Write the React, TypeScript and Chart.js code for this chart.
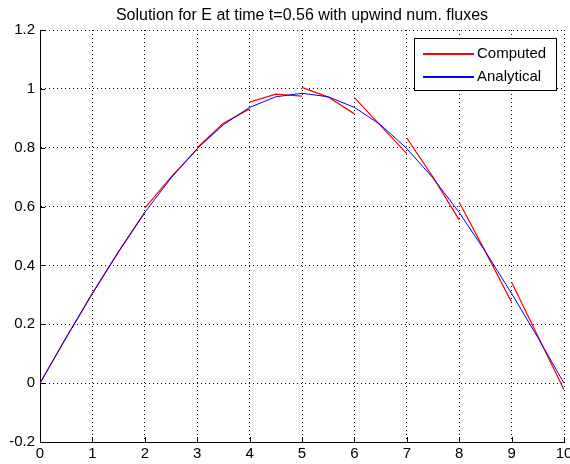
import React, { useEffect, useRef } from "react";
import { Chart, registerables } from "chart.js";

Chart.register(...registerables);

const TITLE = "Solution for E at time t=0.56 with upwind num. fluxes";
const LEGEND_LABELS = ["Computed", "Analytical"];
const SERIES_COLORS = ["#ff0000", "#0000ff"];

const X_TICKS = [0, 1, 2, 3, 4, 5, 6, 7, 8, 9, 10];
const X_TICK_LABELS = ["0", "1", "2", "3", "4", "5", "6", "7", "8", "9", "10"];
const Y_TICKS = [-0.2, 0, 0.2, 0.4, 0.6, 0.8, 1, 1.2];
const Y_TICK_LABELS = ["-0.2", "0", "0.2", "0.4", "0.6", "0.8", "1", "1.2"];

// Analytical solution
const ANALYTICAL_X = [0, 0.5, 1, 1.5, 2, 2.5, 3, 3.5, 4, 4.5, 5, 5.5, 6, 6.5, 7, 7.5, 8, 8.5, 9, 9.5, 10];
const ANALYTICAL_Y = [0, 0.155, 0.305, 0.447, 0.58, 0.697, 0.797, 0.878, 0.937, 0.973, 0.985, 0.973, 0.937, 0.878, 0.797, 0.697, 0.58, 0.447, 0.305, 0.155, 0];

// Computed solution: one element per unit interval, left / middle / right node
const ELEMENT_LEFT_X = [0, 1, 2, 3, 4, 5, 6, 7, 8, 9];
const ELEMENT_MID_X = [0.5, 1.5, 2.5, 3.5, 4.5, 5.5, 6.5, 7.5, 8.5, 9.5];
const ELEMENT_RIGHT_X = [1, 2, 3, 4, 5, 6, 7, 8, 9, 10];
const COMPUTED_LEFT_Y = [0, 0.305, 0.595, 0.8, 0.955, 1.005, 0.97, 0.833, 0.615, 0.343];
const COMPUTED_MID_Y = [0.155, 0.447, 0.7, 0.883, 0.982, 0.972, 0.875, 0.7, 0.447, 0.16];
const COMPUTED_RIGHT_Y = [0.305, 0.58, 0.795, 0.932, 0.975, 0.915, 0.78, 0.555, 0.275, -0.022];

const FONT = "'Liberation Sans', Arial, sans-serif";

export default function App() {
  const ref = useRef<HTMLCanvasElement | null>(null);

  useEffect(() => {
    document.body.style.margin = "0";
    const canvas = ref.current;
    if (!canvas) return;

    const computed: { x: number; y: number | null }[] = [];
    ELEMENT_LEFT_X.forEach((lx, i) => {
      computed.push({ x: lx, y: COMPUTED_LEFT_Y[i] });
      computed.push({ x: ELEMENT_MID_X[i], y: COMPUTED_MID_Y[i] });
      computed.push({ x: ELEMENT_RIGHT_X[i], y: COMPUTED_RIGHT_Y[i] });
      computed.push({ x: ELEMENT_RIGHT_X[i], y: null });
    });
    const analytical = ANALYTICAL_X.map((x, i) => ({ x, y: ANALYTICAL_Y[i] }));

    const decor = {
      id: "decor",
      afterDraw(chart: any) {
        const { ctx, chartArea, scales } = chart;
        ctx.save();
        ctx.setLineDash([]);
        // inward tick marks
        ctx.fillStyle = "#000";
        for (const v of X_TICKS) {
          const px = Math.round(scales.x.getPixelForValue(v));
          ctx.fillRect(px, chartArea.bottom - 5, 1, 5);
        }
        for (const v of Y_TICKS) {
          const py = Math.round(scales.y.getPixelForValue(v));
          ctx.fillRect(chartArea.left, py, 5, 1);
        }

        // title
        ctx.fillStyle = "#000";
        ctx.font = `16px ${FONT}`;
        ctx.textAlign = "center";
        ctx.textBaseline = "alphabetic";
        ctx.fillText(TITLE, (chartArea.left + chartArea.right) / 2, 20);

        // legend box
        const bx = 414, by = 38, bw = 143, bh = 53;
        ctx.fillStyle = "#fff";
        ctx.fillRect(bx, by, bw, bh);
        ctx.fillStyle = "#000";
        ctx.fillRect(bx, by, bw, 1);
        ctx.fillRect(bx, by + bh - 1, bw, 1);
        ctx.fillRect(bx, by, 1, bh);
        ctx.fillRect(bx + bw - 1, by, 1, bh);
        const rows = [53, 76];
        LEGEND_LABELS.forEach((label, i) => {
          ctx.fillStyle = SERIES_COLORS[i];
          ctx.fillRect(423, rows[i], 51, 2);
          ctx.fillStyle = "#000";
          ctx.textAlign = "left";
          ctx.textBaseline = "middle";
          ctx.font = `15px ${FONT}`;
          ctx.fillText(label, 477, rows[i] + 1);
        });
        ctx.restore();
      },
    };

    const chart = new Chart(canvas, {
      type: "line",
      data: {
        datasets: [
          {
            label: LEGEND_LABELS[1],
            data: analytical,
            borderColor: SERIES_COLORS[1],
            borderWidth: 1,
            pointRadius: 0,
            tension: 0,
            fill: false,
          },
          {
            label: LEGEND_LABELS[0],
            data: computed,
            borderColor: SERIES_COLORS[0],
            borderWidth: 1.2,
            pointRadius: 0,
            tension: 0,
            spanGaps: false,
            fill: false,
          },
        ],
      },
      options: {
        animation: false,
        responsive: false,
        devicePixelRatio: 1,
        layout: { padding: { top: 30, right: 6, left: 0, bottom: 0 } },
        plugins: {
          legend: { display: false },
          title: { display: false },
          tooltip: { enabled: false },
        },
        scales: {
          x: {
            type: "linear",
            min: 0,
            max: 10,
            afterBuildTicks: (s: any) => {
              s.ticks = X_TICKS.map((v) => ({ value: v }));
            },
            afterFit: (s: any) => {
              s.height = 22;
              s.paddingLeft = 0;
              s.paddingRight = 0;
            },
            ticks: {
              autoSkip: false,
              maxRotation: 0,
              padding: 3,
              color: "#000",
              font: { family: FONT, size: 15 },
              callback: (_v: any, i: number) => X_TICK_LABELS[i],
            },
            grid: { color: "#000", lineWidth: 1, drawTicks: false },
            border: { display: true, color: "#000", width: 1, dash: [1, 3] },
          },
          y: {
            type: "linear",
            min: -0.2,
            max: 1.2,
            afterBuildTicks: (s: any) => {
              s.ticks = Y_TICKS.map((v) => ({ value: v }));
            },
            afterFit: (s: any) => {
              s.width = 40;
              s.paddingTop = 0;
              s.paddingBottom = 0;
            },
            ticks: {
              autoSkip: false,
              padding: 5,
              color: "#000",
              font: { family: FONT, size: 15 },
              callback: (_v: any, i: number) => Y_TICK_LABELS[i],
            },
            grid: { color: "#000", lineWidth: 1, drawTicks: false },
            border: { display: true, color: "#000", width: 1, dash: [1, 3] },
          },
        },
      },
      plugins: [decor],
    });

    return () => chart.destroy();
  }, []);

  return (
    <div style={{ width: 570, height: 464, background: "#fff" }}>
      <canvas ref={ref} width={570} height={464} style={{ display: "block" }} />
    </div>
  );
}
